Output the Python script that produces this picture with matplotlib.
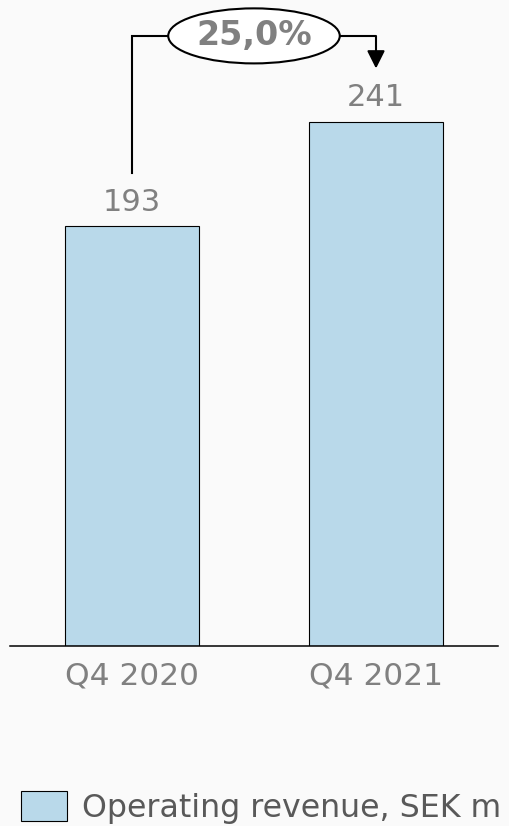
"""
Operating revenue, Q4 2020 vs Q4 2021, with the growth bracket on top.
"""

import numpy as np
import matplotlib
matplotlib.use('Agg')
import matplotlib.pyplot as plt
from matplotlib.patches import Ellipse

# data
quarters = ['Q4 2020', 'Q4 2021']
revenue = [193, 241]
growth_label = '25,0%'
legend_label = 'Operating revenue, SEK m'

# colours
bg = '#fafafa'
bar_col = '#b9d9ea'
grey = '#808080'

fig = plt.figure(figsize=(5.10, 8.26), dpi=100, facecolor=bg)
# axes runs from the left edge of the baseline to the top of the figure
ax = fig.add_axes([10/510, (826-646)/826, 488/510, 646/826])
ax.set_facecolor(bg)

x = np.arange(len(quarters))
bars = ax.bar(x, revenue, width=0.552, color=bar_col, edgecolor='black',
              linewidth=0.8, label=legend_label)

ax.set_xlim(-0.5, 1.5)
ax.set_ylim(0, 297)

# value labels over the bars
for xi, v in zip(x, revenue):
    ax.text(xi, v + 11, str(v), ha='center', va='center',
            fontsize=22, color=grey)

# spines / ticks
for s in ['top', 'left', 'right']:
    ax.spines[s].set_visible(False)
ax.spines['bottom'].set_linewidth(1.1)
ax.set_yticks([])
ax.set_xticks(x)
ax.set_xticklabels(quarters, fontsize=22.5, color=grey)
ax.tick_params(axis='x', length=0, pad=11)

# growth bracket: from the first label, over the ellipse, down to the second
off = 24.5
top = 280.5
ell_w = 0.703
ell_h = 25.3
ex = (x[0] + x[1]) / 2.
ax.plot([x[0], x[0], ex - ell_w/2], [revenue[0] + off, top, top],
        color='black', lw=1.5, solid_joinstyle='miter', clip_on=False)
ax.annotate('', xy=(x[1], revenue[1] + off), xytext=(ex + ell_w/2, top),
            arrowprops=dict(arrowstyle='-|>', mutation_scale=27, lw=1.5,
                            color='black', shrinkA=0, shrinkB=0,
                            connectionstyle='angle,angleA=0,angleB=90,rad=0'))
ax.add_patch(Ellipse((ex, top), ell_w, ell_h, facecolor='white',
                     edgecolor='black', lw=1.5, clip_on=False, zorder=3))
ax.text(ex, top, growth_label, ha='center', va='center', fontsize=24,
        fontweight='bold', color=grey, zorder=4)

# legend at the bottom left
fig.legend(handles=[bars], loc='lower left',
           bbox_to_anchor=(21/510, 2/826), frameon=False, fontsize=22.8,
           handlelength=1.45, handleheight=1.07, handletextpad=0.47,
           borderpad=0, borderaxespad=0, labelcolor='#595959')

fig.savefig('out.png', dpi=100, facecolor=bg)
